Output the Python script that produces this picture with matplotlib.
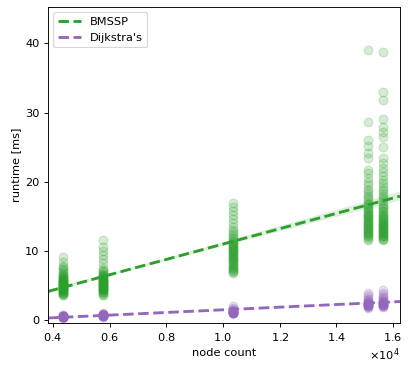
import matplotlib
matplotlib.use("Agg")
import matplotlib.pyplot as plt
import numpy as np
import seaborn as sns

# node counts of the five test graphs
nodes = [4360, 5775, 10360, 15120, 15650]

# BMSSP runtimes [ms] per graph
bmssp = [
    [3.6, 3.7, 3.8, 3.9, 4.0, 4.0, 4.1, 4.2, 4.2, 4.3, 4.4, 4.4, 4.5, 4.5, 4.6, 4.6, 4.7, 4.7, 4.8, 4.8,
     4.9, 4.9, 5.0, 5.0, 5.1, 5.1, 5.2, 5.2, 5.3, 5.3, 5.4, 5.4, 5.5, 5.5, 5.6, 5.6, 5.7, 5.8, 5.8, 5.9,
     6.0, 6.1, 6.2, 6.3, 6.4, 6.5, 6.6, 6.8, 7.0, 7.2, 7.4, 7.7, 7.9, 8.4, 9.1],
    [3.6, 3.7, 3.9, 4.0, 4.1, 4.2, 4.3, 4.4, 4.4, 4.5, 4.6, 4.6, 4.7, 4.8, 4.8, 4.9, 5.0, 5.0, 5.1, 5.2,
     5.2, 5.3, 5.4, 5.4, 5.5, 5.6, 5.6, 5.7, 5.8, 5.8, 5.9, 6.0, 6.1, 6.2, 6.3, 6.4, 6.5, 6.6, 6.7, 6.9,
     7.1, 7.3, 7.6, 8.2, 8.8, 9.4, 10.0, 10.6, 11.6],
    [6.8, 7.0, 7.1, 7.3, 7.4, 7.6, 7.7, 7.9, 8.0, 8.2, 8.3, 8.5, 8.6, 8.8, 8.9, 9.0, 9.2, 9.3, 9.4, 9.6,
     9.7, 9.8, 10.0, 10.1, 10.2, 10.4, 10.5, 10.6, 10.8, 10.9, 11.0, 11.2, 11.3, 11.5, 11.7, 11.9, 12.1,
     12.4, 12.7, 13.0, 13.5, 14.0, 14.6, 15.2, 15.8, 16.4, 16.9],
    [11.6, 11.8, 12.0, 12.1, 12.3, 12.4, 12.6, 12.7, 12.9, 13.0, 13.2, 13.3, 13.5, 13.6, 13.8, 13.9, 14.1,
     14.2, 14.4, 14.5, 14.7, 14.8, 15.0, 15.1, 15.3, 15.4, 15.6, 15.8, 16.0, 16.2, 16.4, 16.6, 16.8, 17.0,
     17.3, 17.6, 17.9, 18.2, 18.6, 19.0, 19.5, 20.0, 20.6, 21.2, 21.7, 23.5, 24.1, 25.2, 26.0, 28.7, 39.0],
    [11.6, 11.7, 11.8, 12.0, 12.1, 12.2, 12.3, 12.5, 12.6, 12.7, 12.8, 13.0, 13.1, 13.2, 13.3, 13.4, 13.6,
     13.7, 13.8, 13.9, 14.1, 14.2, 14.4, 14.5, 14.6, 14.7, 14.9, 15.0, 15.2, 15.4, 15.6, 15.8, 16.0, 16.2,
     16.4, 16.7, 17.0, 17.3, 17.6, 17.9, 18.2, 18.6, 19.0, 19.4, 19.8, 20.3, 20.8, 21.4, 22.0, 22.7, 23.4,
     25.0, 26.5, 27.2, 27.9, 29.0, 31.8, 33.0, 38.8],
]

# Dijkstra runtimes [ms] per graph
dijkstra = [
    [0.35, 0.4, 0.4, 0.4, 0.45, 0.45, 0.45, 0.5, 0.5, 0.5, 0.5, 0.5, 0.55, 0.55, 0.55, 0.6, 0.6, 0.6,
     0.65, 0.65, 0.7, 0.75],
    [0.5, 0.55, 0.6, 0.6, 0.6, 0.65, 0.65, 0.65, 0.7, 0.7, 0.7, 0.7, 0.75, 0.75, 0.75, 0.8, 0.8, 0.85,
     0.9, 0.95, 1.0],
    [1.0, 1.0, 1.05, 1.05, 1.1, 1.1, 1.1, 1.15, 1.15, 1.2, 1.2, 1.2, 1.25, 1.25, 1.3, 1.3, 1.35, 1.4,
     1.5, 1.6, 1.8, 2.1],
    [1.8, 1.9, 2.0, 2.0, 2.1, 2.1, 2.2, 2.2, 2.2, 2.3, 2.3, 2.3, 2.4, 2.4, 2.5, 2.5, 2.6, 2.7, 2.8, 2.9,
     3.1, 3.3, 3.6, 3.9],
    [1.9, 2.0, 2.1, 2.1, 2.2, 2.2, 2.3, 2.3, 2.4, 2.4, 2.4, 2.5, 2.5, 2.6, 2.6, 2.7, 2.8, 2.9, 3.0, 3.2,
     3.4, 3.7, 4.0, 4.4],
]

series = [("BMSSP", bmssp, "#2ca02c"), ("Dijkstra's", dijkstra, "#9467bd")]

dpi = 82
fig = plt.figure(figsize=(412 / dpi, 368 / dpi), dpi=dpi)
ax = fig.add_axes([47.7 / 412, 44.7 / 368, 352.3 / 412, 316.6 / 368])
ax.set_xlim(3813, 16247)
ax.set_ylim(-0.45, 45.3)

for name, runs, col in series:
    xs = np.concatenate([[n] * len(r) for n, r in zip(nodes, runs)])
    ys = np.concatenate(runs)
    sns.regplot(x=xs, y=ys, ax=ax, truncate=False, seed=0, ci=80, color=col,
                scatter_kws={"alpha": 0.2, "s": 60},
                line_kws={"linestyle": "--", "linewidth": 2.5, "label": name})

ax.set_xlim(3813, 16247)
ax.set_ylim(-0.45, 45.3)
ax.ticklabel_format(axis="x", style="sci", scilimits=(0, 0), useMathText=True)
ax.set_xlabel("node count")
ax.set_ylabel("runtime [ms]")
ax.legend(loc="upper left")

fig.savefig("out.png", dpi=dpi)
